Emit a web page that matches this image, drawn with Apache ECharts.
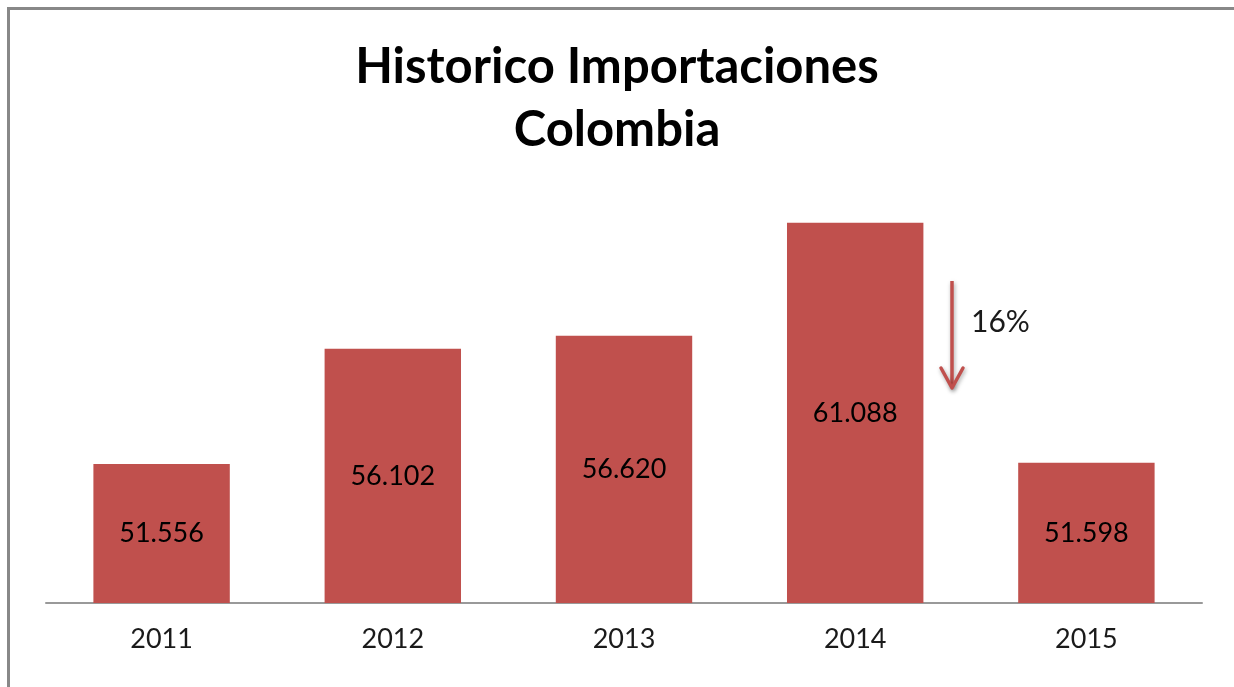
<!DOCTYPE html>
<html>
<head>
<meta charset="utf-8">
<script src="https://cdn.jsdelivr.net/npm/echarts@6/dist/echarts.min.js"></script>
<style>
html,body{margin:0;padding:0;background:#fff;overflow:hidden;}
#c{width:1234px;height:687px;}
</style>
</head>
<body>
<div id="c"></div>
<script>
const categories = ['2011', '2012', '2013', '2014', '2015'];
const imports = [51.556, 56.102, 56.620, 61.088, 51.598];
const titleText = 'Historico Importaciones\nColombia';
const changeLabel = '16%';

const FONT = 'Lato, "Open Sans", sans-serif';
const RED = '#C0504D';

const chart = echarts.init(document.getElementById('c'), null, {renderer: 'canvas'});
chart.setOption({
  animation: false,
  backgroundColor: '#fff',
  title: {
    text: titleText,
    left: 'center',
    top: 31,
    textStyle: {fontFamily: FONT, fontSize: 49, fontWeight: 'bold', color: '#000', lineHeight: 63}
  },
  grid: {left: 46, right: 32, top: 149, bottom: 84},
  xAxis: {
    type: 'category',
    data: categories,
    axisLine: {show: true, lineStyle: {color: '#999', width: 2}},
    axisTick: {show: false},
    axisLabel: {fontFamily: FONT, fontSize: 27, color: '#1a1a1a', margin: 23}
  },
  yAxis: {
    type: 'value',
    min: 46.06,
    max: 64,
    show: false,
    splitLine: {show: false}
  },
  series: [{
    type: 'bar',
    data: imports,
    barWidth: '59%',
    itemStyle: {color: RED},
    label: {
      show: true,
      position: 'inside',
      fontFamily: FONT,
      fontSize: 27,
      color: '#000',
      formatter: p => p.value.toFixed(3)
    }
  }],
  graphic: [
    {type: 'rect', shape: {x: 8.5, y: 8.5, width: 1300, height: 760},
     style: {fill: 'none', stroke: '#888', lineWidth: 3}, silent: true},
    {type: 'group', children: [
      {type: 'line', shape: {x1: 952, y1: 281, x2: 952, y2: 388},
       style: {stroke: RED, lineWidth: 3.5, shadowBlur: 4, shadowColor: 'rgba(0,0,0,0.35)', shadowOffsetX: 1, shadowOffsetY: 2}},
      {type: 'polyline', shape: {points: [[941, 368], [952, 388], [963, 368]]},
       style: {stroke: RED, lineWidth: 3.5, fill: 'none', lineCap: 'round', lineJoin: 'round', shadowBlur: 4, shadowColor: 'rgba(0,0,0,0.35)', shadowOffsetX: 1, shadowOffsetY: 2}}
    ]},
    {type: 'text', x: 971, y: 322,
     style: {text: changeLabel, fontFamily: FONT, fontSize: 30, fill: '#1a1a1a', textVerticalAlign: 'middle', verticalAlign: 'middle'}}
  ]
});
</script>
</body>
</html>
